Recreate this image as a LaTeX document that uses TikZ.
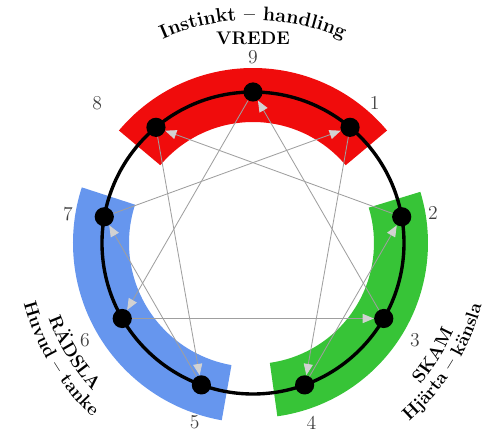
\documentclass[tikz,border=0pt]{standalone}
\usetikzlibrary{arrows.meta,decorations.text}
\definecolor{vredered}{RGB}{240,12,12}
\definecolor{radslablue}{RGB}{102,150,238}
\definecolor{skamgreen}{RGB}{55,196,55}
\begin{document}
\begin{tikzpicture}[
    dot/.style={circle, fill=black, minimum size=0.48cm, inner sep=0pt},
    num/.style={text=black!75, font=\fontsize{14}{16}\selectfont},
    link/.style={draw=gray!75, line width=0.6pt, -{Triangle[length=8pt,width=6.5pt,color=gray!35,fill=gray!35]}},
    bold13/.style={font=\bfseries\fontsize{13}{15}\selectfont}
]
\useasboundingbox (-6.325,-4.75) rectangle (6.075,6.075);

% coloured bands
\fill[vredered] (40:3.025) arc (40:140:3.025) -- (140:4.375) arc (140:40:4.375) -- cycle;
\fill[skamgreen] (-82:3.025) arc (-82:17:3.025) -- (17:4.375) arc (17:-82:4.375) -- cycle;
\fill[radslablue] (162:3.1) arc (162:260:3.1) -- (260:4.5) arc (260:162:4.5) -- cycle;

% the circle and the nine points
\draw[line width=2.4pt] (0,0) circle (3.775);
\foreach \k in {1,...,9}
    \node[dot] (p\k) at ({90-40*\k}:3.775) {};

% inner lines
\foreach \a/\b in {1/4,4/2,2/8,8/5,5/7,7/1,3/9,9/6,6/3}
    \draw[link] (p\a) -- (p\b);

% numbers
\foreach \k/\ang/\rad in {9/90/4.64, 1/49/4.64, 2/9.5/4.56, 3/-31/4.72, 4/-72/4.72, 5/-108/4.72, 6/-150/4.85, 7/171/4.685, 8/138/5.24}
    \node[num] (n\k) at (\ang:\rad) {\k};

% group names
\node[bold13, anchor=base] (vrede) at (0,4.95) {VREDE};
\path[decorate, decoration={text along path, text align=center,
    text={|\bfseries\fontsize{14}{16}\selectfont|Instinkt – handling}}]
    (125:5.575) arc (125:55:5.575);
\path[decorate, decoration={text along path, text align=center,
    text={|\bfseries\fontsize{13}{15}\selectfont|RÄDSLA}}]
    (-178:5.45) arc (-178:-119:5.45);
\path[decorate, decoration={text along path, text align=center,
    text={|\bfseries\fontsize{13}{15}\selectfont|Huvud – tanke}}]
    (-178:5.925) arc (-178:-120:5.925);
\path[decorate, decoration={text along path, text align=center,
    text={|\bfseries\fontsize{13}{15}\selectfont|SKAM}}]
    (-60:5.475) arc (-60:-4:5.475);
\path[decorate, decoration={text along path, text align=center,
    text={|\bfseries\fontsize{13}{15}\selectfont|Hjärta – känsla}}]
    (-60:5.925) arc (-60:-4:5.925);
\end{tikzpicture}
\end{document}
